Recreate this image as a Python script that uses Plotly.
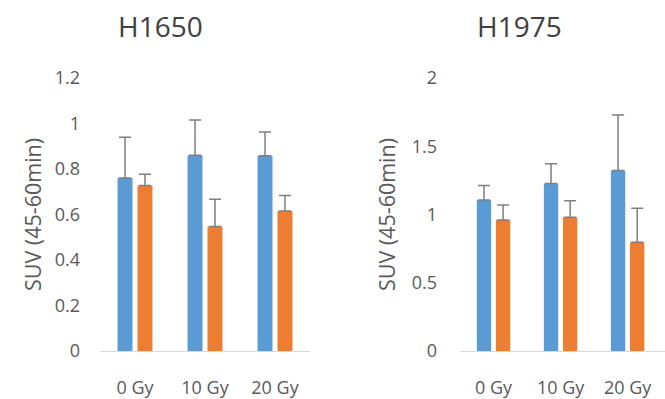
import plotly.graph_objects as go

categories = ["0 Gy", "10 Gy", "20 Gy"]

h1650_blue = [0.76, 0.86, 0.858]
h1650_blue_err = [0.18, 0.155, 0.105]
h1650_orange = [0.727, 0.547, 0.615]
h1650_orange_err = [0.05, 0.12, 0.068]

h1975_blue = [1.107, 1.227, 1.323]
h1975_blue_err = [0.105, 0.144, 0.406]
h1975_orange = [0.96, 0.98, 0.797]
h1975_orange_err = [0.11, 0.12, 0.248]

left_ticks = [0, 0.2, 0.4, 0.6, 0.8, 1, 1.2]
left_ticktext = ["0", "0.2", "0.4", "0.6", "0.8", "1", "1.2"]
right_ticks = [0, 0.5, 1, 1.5, 2]
right_ticktext = ["0", "0.5", "1", "1.5", "2"]

BLUE = "#5b9bd5"
ORANGE = "#ed7d31"
ERR = "#7f7f7f"
FONT = "Open Sans"

fig = go.Figure()

def add_bars(vals, errs, color, xa, ya):
    fig.add_trace(go.Bar(
        x=categories, y=vals, marker_color=color, marker_line_width=0,
        error_y=dict(type="data", array=errs, symmetric=False,
                     arrayminus=[0] * len(errs), color=ERR, thickness=1.5, width=6),
        xaxis=xa, yaxis=ya, showlegend=False))

add_bars(h1650_blue, h1650_blue_err, BLUE, "x", "y")
add_bars(h1650_orange, h1650_orange_err, ORANGE, "x", "y")
add_bars(h1975_blue, h1975_blue_err, BLUE, "x2", "y2")
add_bars(h1975_orange, h1975_orange_err, ORANGE, "x2", "y2")

W, H = 665, 399
TOP, BOT = 78, 355
tickfont = dict(family=FONT, size=18, color="#595959")
ytitle_font = dict(family=FONT, size=21.5, color="#595959")

xcommon = dict(type="category", showline=True, linecolor="#d9d9d9", linewidth=1,
               showgrid=False, ticks="", tickfont=tickfont, ticklabelstandoff=20)
ycommon = dict(showline=False, showgrid=False, zeroline=False, ticks="",
               tickfont=tickfont)

title_y = (BOT - 25) / (BOT - TOP)

fig.update_layout(
    width=W, height=H,
    margin=dict(l=0, r=0, t=TOP, b=H - BOT),
    paper_bgcolor="white", plot_bgcolor="white",
    barmode="group", bargap=0.43, bargroupgap=0.25,
    xaxis=dict(domain=[100 / W, 310 / W], range=[-0.5, 2.5], anchor="y", **xcommon),
    yaxis=dict(domain=[0, 1], range=[0, 1.2], tickvals=left_ticks, ticktext=left_ticktext,
               anchor="x", ticklabelstandoff=19,
               title=dict(text="SUV (45-60min)", font=ytitle_font, standoff=7), **ycommon),
    xaxis2=dict(domain=[460 / W, 1.0], range=[-0.5, 2.5 + 4 / 70], anchor="y2", **xcommon),
    yaxis2=dict(domain=[0, 1], range=[0, 2], tickvals=right_ticks, ticktext=right_ticktext,
                anchor="x2", ticklabelstandoff=22,
                title=dict(text="SUV (45-60min)", font=ytitle_font, standoff=10), **ycommon),
    annotations=[
        dict(text="H1650", x=160 / W, y=title_y, xref="paper", yref="paper",
             yanchor="middle", xanchor="center", showarrow=False,
             font=dict(family=FONT, size=28, color="#404040")),
        dict(text="H1975", x=519 / W, y=title_y, xref="paper", yref="paper",
             yanchor="middle", xanchor="center", showarrow=False,
             font=dict(family=FONT, size=28, color="#404040")),
    ],
)

fig.write_html("out.html", config={"displayModeBar": False})

with open("out.html", "r", encoding="utf-8") as f:
    html = f.read()
html = html.replace("<head>", "<head><style>html,body{margin:0;padding:0;overflow:hidden;}</style>", 1)
with open("out.html", "w", encoding="utf-8") as f:
    f.write(html)
